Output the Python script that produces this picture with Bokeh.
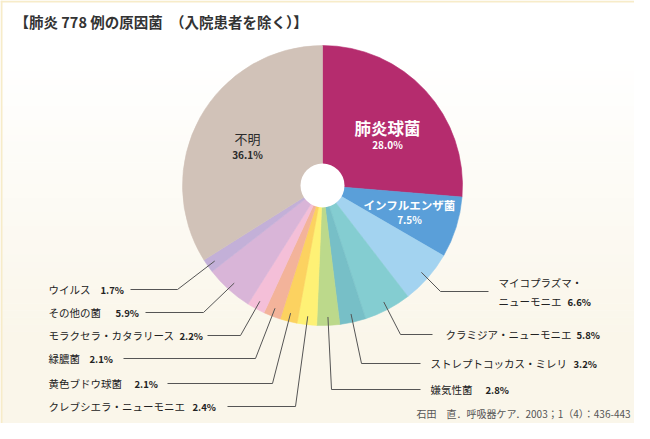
import math
from bokeh.plotting import figure
from bokeh.models import Range1d, ColumnDataSource
from bokeh.core.properties import value
from bokeh.embed import file_html
from bokeh.resources import INLINE

# ---------------- data ----------------
title = "【肺炎 778 例の原因菌　（入院患者を除く）】"
source_note = "石田　直．呼吸器ケア．2003；1（4）：436-443"
categories = ["肺炎球菌", "インフルエンザ菌", "マイコプラズマ・\nニューモニエ", "クラミジア・ニューモニエ",
              "ストレプトコッカス・ミレリ", "嫌気性菌", "クレブシエラ・ニューモニエ", "黄色ブドウ球菌",
              "緑膿菌", "モラクセラ・カタラリース", "その他の菌", "ウイルス", "不明"]
values = [28.0, 7.5, 6.6, 5.8, 3.2, 2.8, 2.4, 2.1, 2.1, 2.2, 5.9, 1.7, 36.1]
colors = ["#b52c6e", "#5a9fd9", "#a3d3f0", "#84cdd1", "#77bfc7", "#bcd98b", "#fef175",
          "#fcd260", "#f3b39a", "#f4bfd8", "#d9b5d8", "#c3b0d8", "#d1c2b8"]

# ---------------- layout ----------------
W, H = 634, 423
FONT = value("Noto Sans CJK JP")
X0, YTOP = 0, 439           # data coords == reference pixel coords (y flipped)
CX, CY = 322, 439 - 185     # pie centre
R, HOLE = 140, 22

def Y(ref_y):
    return 439 - ref_y

p = figure(width=W, height=H, output_backend="svg", toolbar_location=None,
           x_range=Range1d(X0, X0 + W), y_range=Range1d(YTOP - H, YTOP), min_border=0)
p.axis.visible = False
p.grid.visible = False
p.outline_line_color = None
p.background_fill_color = "#ffffff"
p.border_fill_color = "#ffffff"

# background gradient (white top -> cream bottom)
n = 60
top_c, bot_c = (255, 255, 255), (250, 246, 234)
for i in range(n):
    y0 = (YTOP - H) + H * i / n
    y1 = (YTOP - H) + H * (i + 1) / n
    t = max(0.0, min(1.0, (1 - (i + 0.5) / n) * 1.5 - 0.2))
    c = tuple(int(round(top_c[k] + (bot_c[k] - top_c[k]) * t)) for k in range(3))
    p.quad(left=X0, right=X0 + W, bottom=y0, top=y1 + 0.5, fill_color="#%02x%02x%02x" % c, line_color=None)

# cream frame edges (top and left)
p.quad(left=X0, right=X0 + W, bottom=Y(2), top=Y(0), fill_color="#f7ecc9", line_color=None)
p.quad(left=X0, right=X0 + 2, bottom=YTOP - H, top=Y(0), fill_color="#f7ecc9", line_color=None)

# pie wedges (clockwise from 12 o'clock, normalised to the total)
total = sum(values)
cum = 0.0
starts, ends, mids = [], [], []
for v in values:
    a0 = cum / total * 2 * math.pi
    cum += v
    a1 = cum / total * 2 * math.pi
    starts.append(math.pi / 2 - a1)
    ends.append(math.pi / 2 - a0)
    mids.append((a0 + a1) / 2)

src = ColumnDataSource(dict(start=starts, end=ends, color=colors))
p.wedge(x=CX, y=CY, radius=R, start_angle="start", end_angle="end", direction="anticlock",
        fill_color="color", line_color="color", line_width=0.6, source=src)
p.circle(x=CX, y=CY, radius=HOLE, fill_color="#ffffff", line_color=None)

# inner labels
inner = {0: ((387, 127), (387, 144), 16.5, "#ffffff", "bold"),
         1: ((409, 204), (409, 219), 11.5, "#ffffff", "bold"),
         12: ((247, 138), (247, 154), 13, "#2b2b2b", "normal")}
for idx, (npos, ppos, fs, col, fw) in inner.items():
    p.text(x=[npos[0]], y=[Y(npos[1])], text=[categories[idx]], text_font=FONT,
           text_font_size=f"{fs}px", text_font_style=fw, text_color=col,
           text_align="center", text_baseline="middle")
    p.text(x=[ppos[0]], y=[Y(ppos[1])], text=[f"{values[idx]:.1f}%"], text_font=FONT,
           text_font_size="10px", text_font_style="bold", text_color=col,
           text_align="center", text_baseline="middle")

# leader lines with outside labels: idx -> (elbow x, row y, end x, name x, pct x)
outer = {
    2: (440, 291, 488, 498, 567),
    3: (400, 334, 432, 445, 572),
    4: (361, 363, 420, 430, 573),
    5: (331, 389, 420, 430, 485),
    6: (295, 406, 227, 48, 192),
    7: (272, 383, 167, 48, 134),
    8: (255, 358, 123, 48, 89),
    9: (240, 335, 207, 48, 174),
    10: (203, 312, 145, 48, 115),
    11: (177, 289, 130, 48, 100),
}
RL = R * 0.94
NAME_PX = 10.5
PCT_FS = "9.5px"
TXT = "#222222"
for idx, (ex, ry, endx, nx, px) in outer.items():
    sx = CX + RL * math.sin(mids[idx])
    sy = CY + RL * math.cos(mids[idx])
    p.line(x=[sx, ex, endx], y=[sy, Y(ry), Y(ry)], line_color="#555555", line_width=1)
    parts = categories[idx].split("\n")
    rows = [ry] if len(parts) == 1 else [ry - 9, ry + 10]
    for part, yy in zip(parts, rows):
        p.text(x=[nx], y=[Y(yy)], text=[part], text_font=FONT, text_font_size=f"{NAME_PX}px",
               text_color=TXT, text_align="left", text_baseline="middle")
    est_end = nx + len(parts[-1]) * NAME_PX + 5
    p.text(x=[max(px, est_end)], y=[Y(rows[-1])], text=[f"{values[idx]:.1f}%"], text_font=FONT,
           text_font_size=PCT_FS, text_font_style="bold", text_color=TXT,
           text_align="left", text_baseline="middle")

# title and source
p.text(x=[14], y=[Y(21)], text=[title], text_font=FONT, text_font_size="14.5px", text_font_style="bold",
       text_color="#333333", text_align="left", text_baseline="middle")
p.text(x=[416], y=[Y(413)], text=[source_note], text_font=FONT, text_font_size="10px",
       text_color="#555555", text_align="left", text_baseline="middle")

open("out.html", "w").write(file_html(p, INLINE))
